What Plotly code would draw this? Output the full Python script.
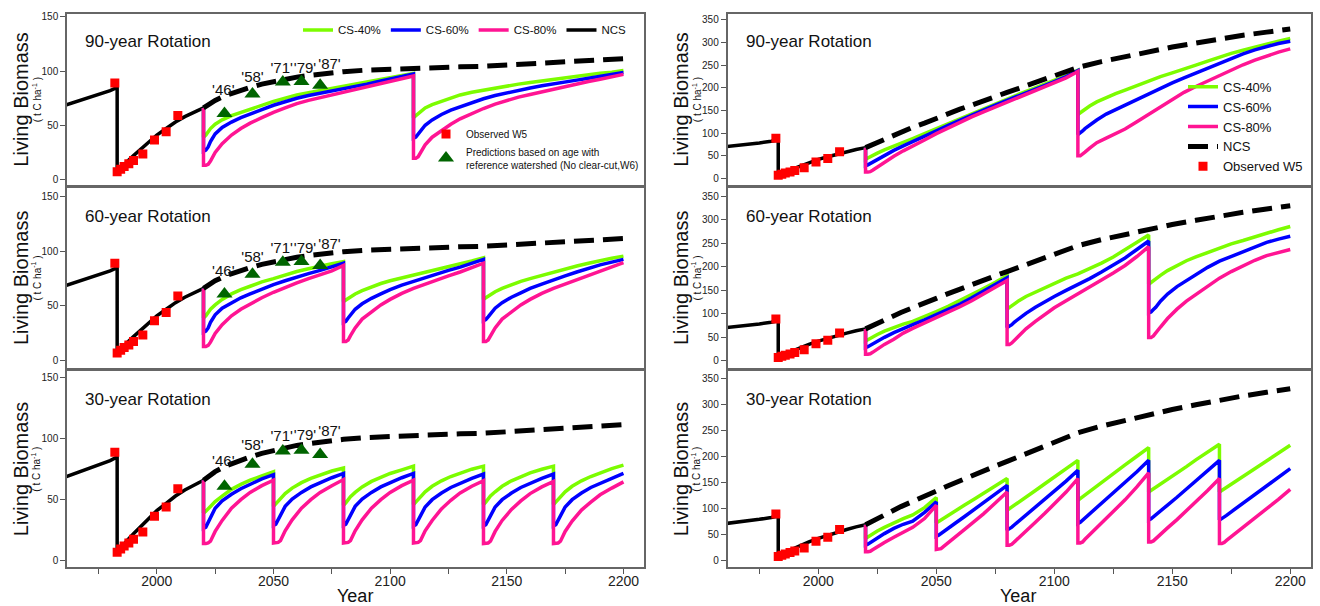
import plotly.graph_objects as go

W, H = 1320, 606
FONT = "Liberation Sans, Arial, sans-serif"

# ---------------- data ----------------
# pre-2020 history (solid black), shared years
HIST_YEARS = [1960, 1965, 1970, 1975, 1980, 1983, 1983, 1985, 1987, 1990, 1993, 1996,
              2000, 2004, 2008, 2012, 2016, 2020]
HIST_L = [68, 71.5, 75, 78, 82, 85, 7, 11, 16, 22, 28, 34, 41, 47, 53, 58, 62, 66]
HIST_R = [70, 72.5, 75.5, 78.5, 82, 85, 9, 13, 17, 24, 30, 35, 42, 48, 54, 59, 64, 68]

# NCS projections (dashed black)
NCS_L_YEARS = [2020, 2025, 2030, 2035, 2040, 2045, 2050, 2055, 2060, 2065, 2070,
               2080, 2090, 2100, 2110, 2120, 2130, 2140, 2150, 2160, 2170, 2180, 2190, 2200]
NCS_L = [66, 73, 78, 82, 85, 88, 90.5, 92.5, 94.5, 96, 97.5,
         99.5, 101, 102, 103, 103.5, 104, 104.5, 105.5, 106.5, 107.5, 108.5, 110, 111.5]
NCS_R_YEARS = [2020, 2025, 2030, 2035, 2040, 2045, 2050, 2055, 2060, 2065, 2070, 2075,
               2080, 2085, 2090, 2095, 2100, 2105, 2110,
               2120, 2130, 2140, 2150, 2160, 2170, 2180, 2190, 2200]
NCS_R = [68, 80, 92, 103, 113, 122, 133, 143, 153, 162, 172, 181,
         190, 199, 208, 217, 226, 236, 245,
         258, 269, 280, 290, 299, 308, 316, 323, 330]

# Observed W5
OBS_YEARS = [1982, 1983, 1984.5, 1986, 1988, 1990, 1994, 1999, 2004, 2009]
OBS_VALS = [89, 7, 9.5, 12, 14.5, 17.5, 23.5, 36.5, 44, 59]

# Predictions from reference watershed W6
PRED_YEARS = [2029, 2041, 2054, 2062, 2070]
PRED_VALS = [61, 79, 90, 90.5, 87]
PRED_LABELS = ["'46'", "'58'", "'71'", "'79'", "'87'"]
PRED_LABEL_YEARS = [2028.5, 2041, 2053.5, 2063.5, 2074]
PRED_LABEL_VALS = [81, 93.5, 101.5, 102, 105.5]

# ---- 90-year rotation ----
YRS_90 = [2020, 2020, 2021, 2022, 2023, 2025, 2028, 2032, 2036, 2040, 2045, 2050, 2055, 2060,
          2065, 2070, 2075, 2080, 2085, 2090, 2095, 2100, 2105, 2110, 2110, 2111, 2112, 2113,
          2115, 2118, 2122, 2126, 2130, 2135, 2140, 2145, 2150, 2155, 2160, 2165, 2170, 2175,
          2180, 2185, 2190, 2195, 2200]
L90_G = [66, 39, 41, 44, 47, 51, 55, 59, 62, 65, 69, 72, 75, 78, 80, 82, 84, 86, 88, 89.5,
         91.5, 93.5, 95.5, 98, 57, 59, 61, 63, 66, 69, 72, 75, 78, 80.5, 82.5, 84.5, 86.5, 88,
         89.5, 91, 92.5, 93.5, 95, 96.5, 98, 99, 100.5]
L90_B = [66, 26, 27, 30, 35, 42, 48, 53, 57, 60, 64.5, 68.5, 72, 75, 77.5, 79.5, 82, 84, 86, 88,
         90.5, 92.5, 95, 97.5, 38, 39, 42, 45, 50, 55, 60, 64, 67, 71, 74.5, 77.5, 80, 82.5,
         84.5, 86.5, 88.5, 90, 91.7, 93.5, 95.5, 97, 98.7]
L90_P = [66, 13, 13, 14, 17, 25, 33, 41, 47, 52, 57, 62, 66, 70, 73, 75.5, 78, 80.5, 83, 85,
         87.5, 90, 92.5, 95.5, 19.5, 19.5, 21, 25, 32, 39, 45, 51, 56, 61, 65.5, 69.5, 73, 76,
         78.5, 81, 83.5, 85.5, 88, 90.5, 92.5, 95, 97]
R90_G = [68, 42, 45, 48, 51, 56, 63, 72, 81, 88, 99, 110, 121, 133, 144, 155, 165, 175, 186,
         196, 206, 216, 227, 239, 141, 145, 149, 153, 160, 169, 179, 187, 195, 205, 216, 225,
         233, 241, 250, 259, 268, 276, 283, 290, 297, 303, 309]
R90_B = [68, 28, 30, 33, 36, 42, 51, 62, 72, 81, 93, 105, 117, 129, 140, 151, 162, 172, 183,
         193, 204, 214, 225, 238, 97, 100, 105, 110, 118, 129, 142, 152, 161, 175, 188, 200,
         211, 222, 233, 244, 254, 264, 275, 284, 292, 298, 303]
R90_P = [68, 14, 14, 15, 18, 25, 36, 49, 61, 71, 85, 99, 112, 124, 136, 147, 158, 168, 179,
         190, 200, 211, 222, 236, 50, 50, 53, 58, 67, 79, 89, 99, 109, 125, 141, 159, 175,
         190, 203, 215, 228, 240, 251, 261, 271, 279, 286]

# ---- 60-year rotation ----
YRS_60 = [2020, 2020, 2021, 2022, 2023, 2025, 2028, 2032, 2036, 2040, 2045, 2050, 2055, 2060,
          2065, 2070, 2075, 2080,
          2080, 2081, 2082, 2083, 2085, 2088, 2092, 2096, 2100, 2105, 2110, 2115, 2120, 2125,
          2130, 2135, 2140,
          2140, 2141, 2142, 2143, 2145, 2148, 2152, 2156, 2160, 2165, 2170, 2175, 2180, 2185,
          2190, 2195, 2200]
L60_G = [66, 39, 41, 44, 47, 51, 56, 61, 65, 68, 72, 75, 78.5, 81.5, 84, 86.5, 88.5, 90.5,
         54, 55.5, 57, 58.5, 61, 64, 67.5, 70.5, 73, 75.5, 78, 80.5, 83, 85.5, 88, 91, 94,
         56, 57.5, 59, 60.5, 63, 66, 69.5, 72.5, 75, 78, 81, 84, 86.5, 89, 91.5, 93.5, 95.5]
L60_B = [66, 26, 27, 30, 35, 42, 48, 53, 57.5, 61, 65.5, 69.5, 73, 76.5, 79.5, 82.5, 85.5, 89,
         35, 36, 39, 42, 47, 52, 57, 61, 65, 69, 72.5, 76, 79, 82.5, 85.5, 89, 92.5,
         36.5, 37.5, 40, 43, 48, 53, 58, 62, 66, 70, 74, 77.5, 81, 84.5, 87.5, 90, 92.5]
L60_P = [66, 13, 13, 14, 17, 25, 33, 41, 47, 52, 57.5, 62.5, 67, 71, 75, 78.5, 82, 87,
         17.5, 17.5, 19, 23, 30, 38, 45, 51, 56, 61.5, 66, 70, 74, 77.5, 81, 85, 89,
         17.5, 17.5, 19, 23, 30, 38, 45, 51, 56, 61.5, 66, 70, 74, 78, 82, 86, 89.5]
R60_G = [68, 42.5, 45, 48, 51, 56, 63, 71, 78, 84, 94, 105, 116, 128, 141, 154, 167, 181,
         110, 114, 118, 122, 128, 137, 146, 155, 165, 176, 185, 196, 208, 221, 236, 252, 268,
         163, 167, 171, 175, 182, 192, 203, 213, 221, 231, 240, 249, 256, 264, 272, 279, 286]
R60_B = [68, 28, 30, 33, 36, 42, 50, 60, 69, 77, 87, 98, 109, 121, 134, 148, 162, 177,
         71, 73, 77, 82, 90, 101, 114, 126, 137, 150, 162, 175, 189, 203, 219, 237, 255,
         102, 104, 109, 114, 127, 142, 158, 171, 183, 199, 212, 222, 233, 243, 252, 259, 265]
R60_P = [68, 14, 14, 15, 18, 25, 35, 46, 59, 69, 80, 92, 103, 115, 128, 142, 156, 171,
         35, 35, 38, 43, 53, 68, 84, 99, 113, 128, 142, 157, 172, 187, 203, 222, 243,
         49.5, 49.5, 53, 60, 72, 90, 110, 127, 141, 160, 176, 190, 203, 214, 224, 231, 237]

# ---- 30-year rotation ----
YRS_30 = [2020, 2020, 2021, 2022, 2023, 2025, 2028, 2032, 2036, 2040, 2045,
          2050, 2050, 2051, 2052, 2053, 2055, 2058, 2062, 2066, 2070, 2075,
          2080, 2080, 2081, 2082, 2083, 2085, 2088, 2092, 2096, 2100, 2105,
          2110, 2110, 2111, 2112, 2113, 2115, 2118, 2122, 2126, 2130, 2135,
          2140, 2140, 2141, 2142, 2143, 2145, 2148, 2152, 2156, 2160, 2165,
          2170, 2170, 2171, 2172, 2173, 2175, 2178, 2182, 2186, 2190, 2195,
          2200]
L30_G = [66, 39, 40.5, 42.5, 45, 48.5, 53, 58.5, 62.5, 66, 69.5,
         73, 44.5, 46.5, 49, 51.5, 55, 59.5, 64, 67.5, 70.5, 73.5,
         76, 45.5, 47.5, 50, 52.5, 56, 60.5, 65, 68.5, 71.5, 74.5,
         77.5, 46, 48, 50.5, 53, 56.5, 61, 65.5, 69, 72, 75,
         77.5, 46, 48, 50.5, 53, 56.5, 61, 65.5, 69, 72, 75,
         77.5, 46, 48, 50.5, 53, 56.5, 61, 65.5, 69, 72, 75.5,
         78.3]
L30_B = [66, 26.5, 27.5, 31, 36, 43, 49, 54.5, 59, 62.5, 67,
         70.5, 29, 30, 33.5, 38, 44.5, 50.5, 56, 60.5, 64, 68,
         71.5, 29, 30, 33.5, 38, 44.5, 50.5, 56, 60.5, 64, 68,
         71.5, 28.5, 29.5, 33, 37.5, 44, 50, 55.5, 60, 63.5, 67.5,
         71, 28.5, 29.5, 33, 37.5, 44, 50, 55.5, 60, 63.5, 67.5,
         71, 28.5, 29.5, 33, 37.5, 44, 50, 55.5, 60, 63.5, 67.5,
         71.5]
L30_P = [66, 14, 14, 14.5, 16, 24, 33, 43, 50, 56, 61.5,
         66, 14.5, 14.5, 15, 16.5, 24.5, 33.5, 43, 50, 56, 61.5,
         66.5, 14.5, 14.5, 15, 16.5, 24.5, 33.5, 43, 50, 56, 61.5,
         66, 14.5, 14.5, 15, 16.5, 24.5, 33, 42.5, 49.5, 55.5, 61,
         65.5, 14, 14, 14.5, 16, 24, 33, 42, 49, 55, 60.5,
         65, 14, 14, 14.5, 16, 24, 32.5, 41.5, 48, 54, 59.5,
         64.6]
R30_G = [68, 41.7, 44.5, 47.5, 50.5, 56, 63, 72, 80, 87, 101,
         120.5, 71.8, 74.5, 77.5, 80, 86, 94.5, 106, 117, 128, 142,
         157, 96, 99, 102, 105.5, 112, 121.5, 134, 147, 160, 176,
         192, 115, 118.5, 122, 125.5, 132.5, 143, 156.5, 170, 183.5, 200,
         216.7, 131, 134, 137, 140.5, 146.5, 156, 168, 180, 193, 208,
         223, 131, 134, 137, 140, 146, 155, 167, 179, 191, 206,
         221]
R30_B = [68, 28.8, 30.5, 33.5, 37, 43, 51, 61, 69, 75, 92,
         112, 46, 48, 51, 54.5, 61, 71, 84, 97, 110, 127,
         144, 57.7, 60, 63.5, 67.5, 75, 86.5, 102, 117, 133, 152,
         173, 70.5, 73, 77, 81, 89, 101, 117, 133, 149, 170,
         192, 77, 79.5, 83, 87, 94.5, 106, 121, 137, 152, 172,
         192, 77, 79.5, 82.5, 86, 93, 103, 117, 130, 143, 160,
         176]
R30_P = [68, 16, 16, 17, 20, 26, 34, 44, 54, 63, 80,
         105.7, 20.5, 20.5, 22, 26, 33, 44, 59, 74, 89, 110,
         131, 28.8, 28.8, 30.5, 35, 43, 56, 73, 90, 108, 131,
         157, 33, 33, 35, 40, 49, 62, 80, 98, 116, 141,
         168, 35, 35, 37, 41.5, 50, 62, 78, 95, 111, 134,
         157, 32, 32, 34, 38, 45, 56, 70, 84, 98, 117,
         136]

SERIES_NAMES = ["CS-40%", "CS-60%", "CS-80%"]
ROT_TITLES = ["90-year Rotation", "60-year Rotation", "30-year Rotation"]
Y_TICKS_L = [0, 50, 100, 150]
Y_TICKS_R = [0, 50, 100, 150, 200, 250, 300, 350]
X_TICKS = [2000, 2050, 2100, 2150, 2200]
X_TICKTEXT = ["2000", "2050", "2100", "2150", "2200"]

for arrs in [(YRS_90, L90_G, L90_B, L90_P, R90_G, R90_B, R90_P),
             (YRS_60, L60_G, L60_B, L60_P, R60_G, R60_B, R60_P),
             (YRS_30, L30_G, L30_B, L30_P, R30_G, R30_B, R30_P)]:
    for a in arrs[1:]:
        assert len(a) == len(arrs[0]), (len(a), len(arrs[0]))

# ---------------- style ----------------
C_G, C_B, C_P = "#7CFC00", "#0000FF", "#FF1493"
C_OBS, C_PRED = "#FF0000", "#006400"
LW = 3.5

# panel geometry (pixels)
X_DOM = {"L": (67, 644), "R": (727.5, 1311)}
Y_DOM = [(12, 184), (187, 367), (370.5, 567)]
Y_RANGES = {"L": [[-5.5, 152.8], [-6.4, 157.3], [-5.3, 155.3]],
            "R": [[-15.3, 363.1], [-14.8, 367], [-13.5, 363.5]]}
X_RANGE = [1961.5, 2208.8]

rot_data = [
    (YRS_90, (L90_G, L90_B, L90_P), (R90_G, R90_B, R90_P)),
    (YRS_60, (L60_G, L60_B, L60_P), (R60_G, R60_B, R60_P)),
    (YRS_30, (L30_G, L30_B, L30_P), (R30_G, R30_B, R30_P)),
]

fig = go.Figure()
layout_axes = {}
annotations = []

idx = 0
for side in ["L", "R"]:
    for row in range(3):
        idx += 1
        xa = "x" if idx == 1 else f"x{idx}"
        ya = "y" if idx == 1 else f"y{idx}"
        xkey = "xaxis" if idx == 1 else f"xaxis{idx}"
        ykey = "yaxis" if idx == 1 else f"yaxis{idx}"
        bottom = row == 2
        x0, x1 = X_DOM[side]
        t, b = Y_DOM[row]
        xax = dict(
            domain=[x0 / W, x1 / W], range=X_RANGE, anchor=ya,
            showline=True, mirror=True, linecolor="#666", linewidth=1.5,
            showgrid=False, zeroline=False, showticklabels=bottom,
        )
        if bottom:
            xax.update(
                tickmode="array", tickvals=X_TICKS, ticktext=X_TICKTEXT, tickangle=0,
                ticks="outside", ticklen=5, tickcolor="#555", ticklabelstandoff=-5,
                tickfont=dict(family=FONT, size=14, color="#222"),
                minor=dict(ticks="outside", ticklen=5, tickcolor="#555",
                           tickmode="linear", tick0=1975, dtick=25, showgrid=False),
            )
        else:
            xax.update(ticks="")
        layout_axes[xkey] = xax
        layout_axes[ykey] = dict(
            domain=[1 - b / H, 1 - t / H], range=Y_RANGES[side][row], anchor=xa,
            showline=True, mirror=True, linecolor="#666", linewidth=1.5,
            showgrid=False, zeroline=False,
            tickvals=Y_TICKS_L if side == "L" else Y_TICKS_R,
            ticks="outside", ticklen=5, tickcolor="#555",
            tickfont=dict(family=FONT, size=10, color="#222"),
        )

        yrs, lvals, rvals = rot_data[row]
        vals = lvals if side == "L" else rvals
        hist = HIST_L if side == "L" else HIST_R
        top_left = side == "L" and row == 0
        top_right = side == "R" and row == 0

        # history (solid black)
        fig.add_trace(go.Scatter(
            x=HIST_YEARS, y=hist, mode="lines", xaxis=xa, yaxis=ya,
            line=dict(color="black", width=LW), name="NCS",
            showlegend=top_left, legend="legend", legendrank=4, hoverinfo="skip"))
        # CS lines
        for name, col, v, rank in zip(SERIES_NAMES, [C_G, C_B, C_P], vals, [1, 2, 3]):
            fig.add_trace(go.Scatter(
                x=yrs, y=v, mode="lines", xaxis=xa, yaxis=ya,
                line=dict(color=col, width=LW), name=name,
                showlegend=top_left or top_right,
                legend="legend" if side == "L" else "legend3", legendrank=rank))
        # NCS dashed
        fig.add_trace(go.Scatter(
            x=NCS_L_YEARS if side == "L" else NCS_R_YEARS,
            y=NCS_L if side == "L" else NCS_R, mode="lines", xaxis=xa, yaxis=ya,
            line=dict(color="black", width=5, dash="20px,9px"), name="NCS",
            showlegend=top_right, legend="legend3", legendrank=4))
        # observed
        fig.add_trace(go.Scatter(
            x=OBS_YEARS, y=OBS_VALS, mode="markers", xaxis=xa, yaxis=ya,
            marker=dict(symbol="square", size=9, color=C_OBS), name="Observed W5",
            showlegend=top_left or top_right,
            legend="legend2" if side == "L" else "legend3", legendrank=5))
        if side == "L":
            fig.add_trace(go.Scatter(
                x=PRED_YEARS, y=PRED_VALS, mode="markers", xaxis=xa, yaxis=ya,
                marker=dict(symbol="triangle-up", size=14, color=C_PRED),
                name="Predictions based on age with<br>reference watershed (No clear-cut,W6)",
                showlegend=top_left, legend="legend2", legendrank=6))
            fig.add_trace(go.Scatter(
                x=PRED_LABEL_YEARS, y=PRED_LABEL_VALS, mode="text", text=PRED_LABELS,
                xaxis=xa, yaxis=ya, textfont=dict(family=FONT, size=15, color="#111"),
                showlegend=False, hoverinfo="skip"))

        # panel title
        annotations.append(dict(
            text=ROT_TITLES[row], xref="paper", yref="paper",
            x=(x0 + 16) / W, y=1 - (t + 28) / H, xanchor="left", yanchor="middle",
            showarrow=False, font=dict(family=FONT, size=17, color="#111")))
        # y axis titles
        cy = 1 - ((t + b) / 2) / H
        big_x = 21 if side == "L" else 681
        annotations.append(dict(
            text="Living Biomass", xref="paper", yref="paper", x=big_x / W, y=cy,
            xanchor="center", yanchor="middle", textangle=-90, showarrow=False,
            font=dict(family=FONT, size=20, color="#111")))
        annotations.append(dict(
            text="(\u00a0t\u00a0C\u00a0ha<sup>-1</sup>\u00a0)", xref="paper", yref="paper",
            x=(big_x + 15.5) / W, y=cy, xanchor="center", yanchor="middle", textangle=-90,
            showarrow=False, font=dict(family=FONT, size=10, color="#111")))

for xc in (355, 1018):
    annotations.append(dict(
        text="Year", xref="paper", yref="paper", x=xc / W, y=1 - 596 / H,
        xanchor="center", yanchor="middle", showarrow=False,
        font=dict(family=FONT, size=18, color="#111")))

fig.update_layout(
    width=W, height=H, margin=dict(l=0, r=0, t=0, b=0),
    paper_bgcolor="white", plot_bgcolor="white",
    annotations=annotations,
    legend=dict(orientation="h", x=298 / W, y=1 - 28 / H, xanchor="left", yanchor="middle",
                font=dict(family=FONT, size=11.5, color="#111"), bgcolor="rgba(0,0,0,0)",
                itemwidth=30, traceorder="normal"),
    legend2=dict(orientation="v", x=426 / W, y=1 - 118 / H, xanchor="left", yanchor="top",
                 font=dict(family=FONT, size=10, color="#111"), bgcolor="rgba(0,0,0,0)",
                 itemwidth=30, tracegroupgap=2),
    legend3=dict(orientation="v", x=1183 / W, y=1 - 70 / H, xanchor="left", yanchor="top",
                 font=dict(family=FONT, size=13, color="#111"), bgcolor="rgba(0,0,0,0)",
                 itemwidth=30),
    showlegend=True,
    **layout_axes,
)

fig.write_html("out.html")
